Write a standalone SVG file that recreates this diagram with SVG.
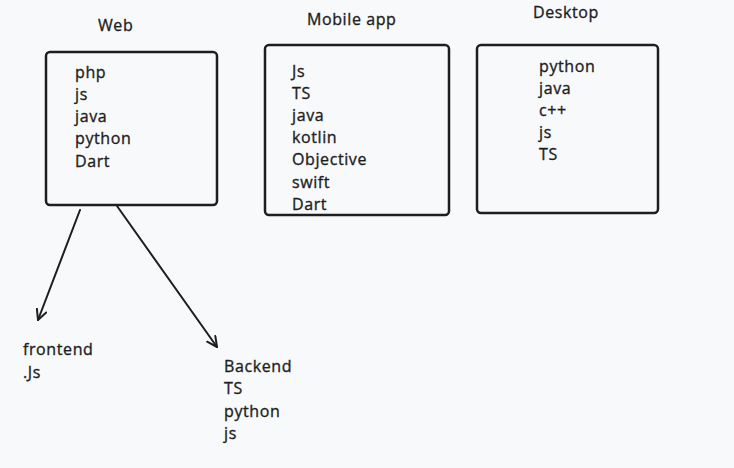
<svg xmlns="http://www.w3.org/2000/svg" width="734" height="468" viewBox="0 0 734 468">
<style>
.box{fill:none;stroke:#1e1e1e;stroke-width:2.5}
.t{font-family:"Open Sans","Liberation Sans",sans-serif;font-size:16px;letter-spacing:0.6px;fill:#1e1e1e;stroke:#1e1e1e;stroke-width:0.35}
.c{fill:none;stroke:#1e1e1e;stroke-width:2;stroke-linecap:round}
</style>
<defs>
<marker id="ah" viewBox="0 0 12 12" refX="11" refY="6" markerWidth="12" markerHeight="12" markerUnits="userSpaceOnUse" orient="auto">
<path d="M1,1 L11,6 L1,11" fill="none" stroke="#1e1e1e" stroke-width="2" stroke-linecap="round" stroke-linejoin="round"/>
</marker>
</defs>
<rect width="734" height="468" fill="#f8f9fb"/>
<g id="web">
<text class="t" x="98" y="31">Web</text>
<rect class="box" x="46" y="52" width="171" height="153" rx="4"/>
<text class="t" x="75" y="78">php</text>
<text class="t" x="75" y="100">js</text>
<text class="t" x="75" y="122">java</text>
<text class="t" x="75" y="144">python</text>
<text class="t" x="75" y="167">Dart</text>
</g>
<g id="mobile">
<text class="t" x="307" y="25">Mobile app</text>
<rect class="box" x="265" y="45" width="184" height="170" rx="4"/>
<text class="t" x="292" y="77">Js</text>
<text class="t" x="292" y="99">TS</text>
<text class="t" x="292" y="121">java</text>
<text class="t" x="292" y="143">kotlin</text>
<text class="t" x="292" y="165">Objective</text>
<text class="t" x="292" y="188">swift</text>
<text class="t" x="292" y="210">Dart</text>
</g>
<g id="desktop">
<text class="t" x="533" y="18">Desktop</text>
<rect class="box" x="477" y="45" width="181" height="168" rx="4"/>
<text class="t" x="539" y="72">python</text>
<text class="t" x="539" y="94">java</text>
<text class="t" x="539" y="116">c++</text>
<text class="t" x="539" y="138">js</text>
<text class="t" x="539" y="160">TS</text>
</g>
<g id="frontend">
<text class="t" x="23" y="355">frontend</text>
<text class="t" x="23" y="378">.Js</text>
</g>
<g id="backend">
<text class="t" x="224" y="372">Backend</text>
<text class="t" x="224" y="394">TS</text>
<text class="t" x="224" y="417">python</text>
<text class="t" x="224" y="439">js</text>
</g>
<g id="connectors">
<path class="c" d="M80,210 L38,320" marker-end="url(#ah)"/>
<path class="c" d="M117,206 L217,347" marker-end="url(#ah)"/>
</g>
</svg>
